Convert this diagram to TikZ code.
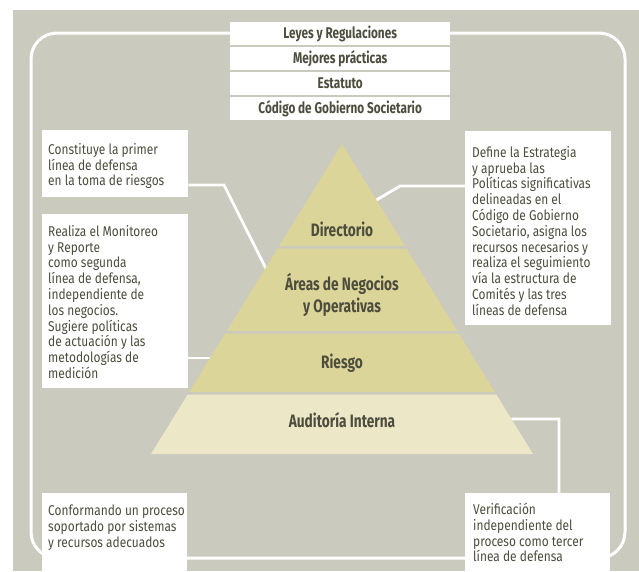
\documentclass[tikz,border=0pt]{standalone}
\usepackage{fontspec}
\setmainfont{Fira Sans}[FakeStretch=0.84]
\newfontfamily\headfont{Fira Sans}[FakeStretch=0.76]
\usetikzlibrary{calc}
\definecolor{bggray}{HTML}{CACABF}
\definecolor{khaki}{HTML}{DCD59A}
\definecolor{lightkhaki}{HTML}{ECE7C7}
\definecolor{txtcol}{HTML}{4D4D3E}
\pgfdeclarelayer{bg}
\pgfsetlayers{bg,main}
\begin{document}
\begin{tikzpicture}[x=1pt,y=-1pt,
  frame/.style={draw=white, line width=3pt, rounded corners=26pt},
  conn/.style={draw=white, line width=2.8pt},
  wbox/.style={fill=white, draw=none, inner sep=0pt, anchor=north west},
  toptxt/.style={font=\headfont\bfseries\fontsize{15.5}{17}\selectfont, text=txtcol},
  headtxt/.style={font=\headfont\bfseries\fontsize{18}{22}\selectfont, text=txtcol, align=center},
  bodytxt/.style={font=\fontsize{14.2}{15.8}\selectfont, text=txtcol, align=left, inner sep=0pt, anchor=north west},
]
\useasboundingbox (0,0) rectangle (639,571);

% pyramid
\coordinate (apex) at (342,144);
\coordinate (bl) at (151,454);
\coordinate (br) at (533,454);
\foreach \n/\y in {a/246, b/248.5, c/331, d/333.5, e/392, f/394.5}{
  \coordinate (L\n) at ($(apex)!{(\y-144)/310}!(bl)$);
  \coordinate (R\n) at ($(apex)!{(\y-144)/310}!(br)$);
}
\fill[khaki] (apex) -- (Ra) -- (La) -- cycle;
\fill[khaki] (Lb) -- (Rb) -- (Rc) -- (Lc) -- cycle;
\fill[khaki] (Ld) -- (Rd) -- (Re) -- (Le) -- cycle;
\fill[lightkhaki] (Lf) -- (Rf) -- (br) -- (bl) -- cycle;

\node[headtxt] (p1) at (342,229) {Directorio};
\node[headtxt] (p2) at (342,295) {Áreas de Negocios\\y Operativas};
\node[headtxt] (p3) at (342,363) {Riesgo};
\node[headtxt] (p4) at (342,420) {Auditoría Interna};

% top boxes
\node[wbox, toptxt, minimum width=220pt, minimum height=22.5pt] (t1) at (230,22) {Leyes y Regulaciones};
\node[wbox, toptxt, minimum width=220pt, minimum height=22.5pt] (t2) at (230,47) {Mejores prácticas};
\node[wbox, toptxt, minimum width=220pt, minimum height=22.5pt] (t3) at (230,72) {Estatuto};
\node[wbox, toptxt, minimum width=220pt, minimum height=22.5pt] (t4) at (230,97) {Código de Gobierno Societario};

% side boxes
\node[wbox, minimum width=146pt, minimum height=67pt] (l1) at (42,130) {};
\node[bodytxt] at ([shift={(6,13)}]l1.north west) {Constituye la primer\\línea de defensa\\en la toma de riesgos};
\node[wbox, minimum width=146pt, minimum height=174pt] (l2) at (42,214) {};
\node[bodytxt] at ([shift={(6,11)}]l2.north west) {Realiza el Monitoreo\\y Reporte\\como segunda\\línea de defensa,\\independiente de\\los negocios.\\Sugiere políticas\\de actuación y las\\metodologías de\\medición};
\node[wbox, minimum width=146pt, minimum height=194pt] (r1) at (465,131) {};
\node[bodytxt] at ([shift={(7,15)}]r1.north west) {Define la Estrategia\\y aprueba las\\Políticas significativas\\delineadas en el\\Código de Gobierno\\Societario, asigna los\\recursos necesarios y\\realiza el seguimiento\\vía la estructura de\\Comités y las tres\\líneas de defensa};
\node[wbox, minimum width=145pt, minimum height=78pt] (b1) at (42,493) {};
\node[bodytxt] at ([shift={(6,12)}]b1.north west) {Conformando un proceso\\soportado por sistemas\\y recursos adecuados};
\node[wbox, minimum width=145pt, minimum height=78pt] (r2) at (465,493) {};
\node[bodytxt] at ([shift={(8,10)}]r2.north west) {Verificación\\independiente del\\proceso como tercer\\línea de defensa};

% background, frame and connectors
\begin{pgfonlayer}{bg}
\fill[bggray] (13,10) rectangle (639,571);
\draw[frame] (31,33) rectangle (625,558);
\coordinate (k1) at (224,185);
\coordinate (e1) at ($(apex)!{(268-144)/310}!(bl)$);
\draw[conn] (l1.east |- k1) -- (k1) -- (e1);
\coordinate (e2) at ($(apex)!{(358-144)/310}!(bl)$);
\draw[conn] (l2.east |- e2) -- (e2);
\coordinate (e3) at ($(apex)!{(200-144)/310}!(br)$);
\coordinate (k3) at (400,186);
\draw[conn] (e3) -- (k3) -- (r1.west |- k3);
\coordinate (e4) at ($(apex)!{(419-144)/310}!(br)$);
\coordinate (k4) at (559,419);
\draw[conn] (e4) -- (k4) -- (r2.north -| k4);
\end{pgfonlayer}
\end{tikzpicture}
\end{document}
